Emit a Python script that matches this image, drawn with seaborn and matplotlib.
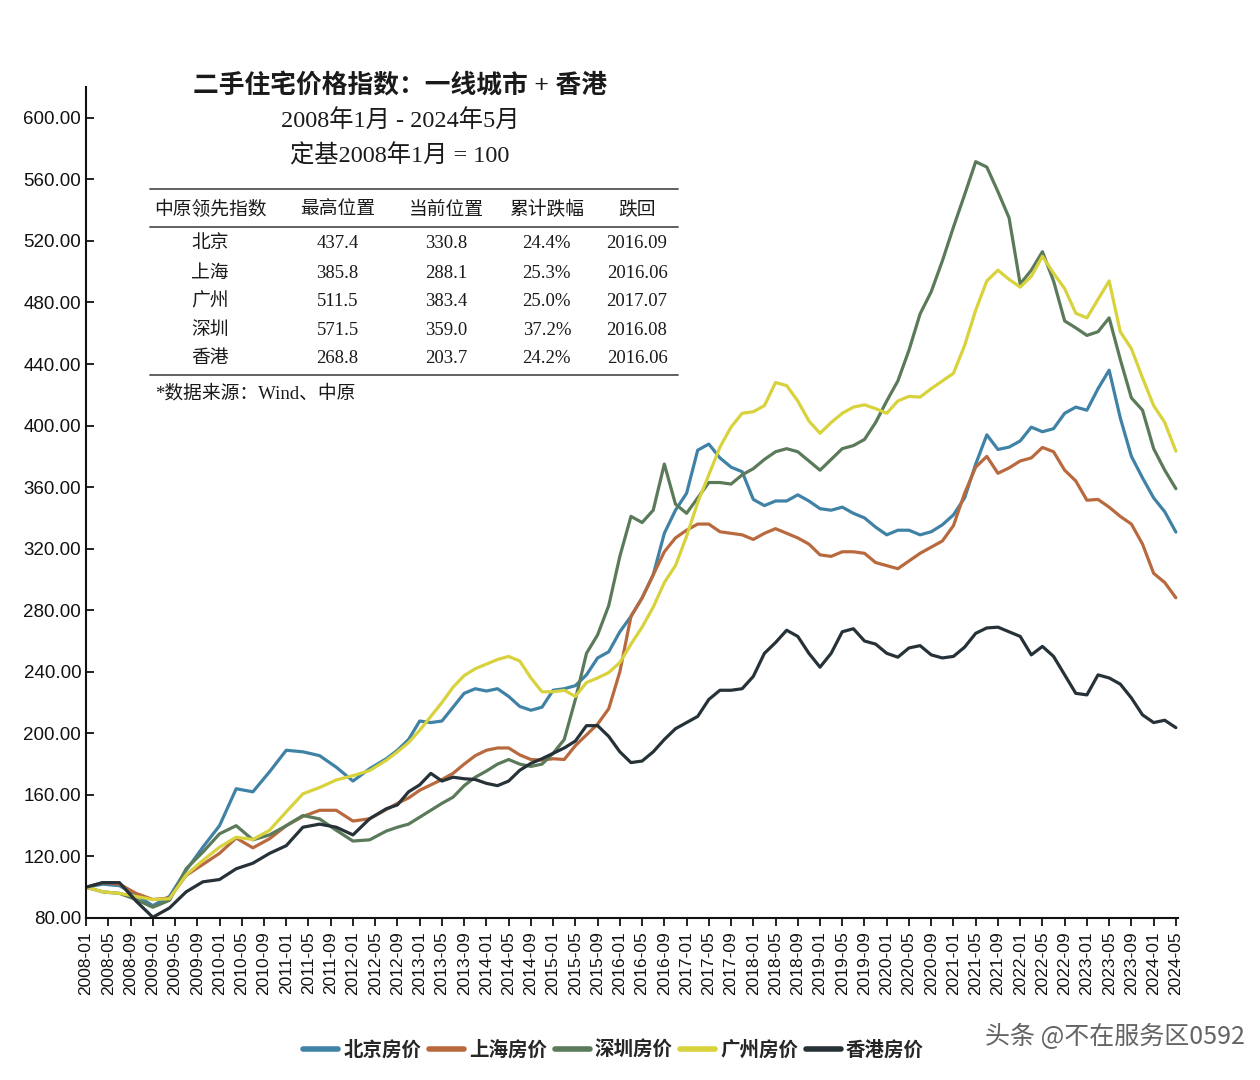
import numpy as np
import pandas as pd
import seaborn as sns
from matplotlib import pyplot as plt
from matplotlib.lines import Line2D

# sample positions, months since 2008-01 (quarterly to 2012-04, then every 2 months)
months = list(range(0, 52, 3)) + list(range(54, 197, 2))

beijing = [100, 102, 101, 95, 88, 94, 111, 126, 140, 164, 162, 175, 189, 188, 185.5, 178, 169, 177,
           183.5, 189, 196, 208, 207, 208, 217, 226, 229, 227.5,
           229, 224, 217.5, 215, 217, 228, 229, 231, 238, 249,
           253, 266, 276, 288, 303, 330, 345, 356, 384, 388,
           379, 373, 370, 352, 348, 351, 351, 355, 351, 346,
           345, 347, 343, 340, 334, 329, 332, 332, 329, 331,
           335.5, 342, 353, 375, 394, 384.5, 386, 390, 399, 396,
           398, 408, 412, 410, 424, 436, 405, 380, 366, 353,
           344, 330.8]
shanghai = [100, 103, 102, 96, 92, 93, 107.7, 114.8, 122, 132, 125.6, 131.5, 140, 146, 150, 150, 143, 144.5,
            150.5, 154.5, 158, 163, 166.5, 170, 174, 180, 185.5, 189,
            190.5, 190.5, 186, 183, 182.6, 183.5, 183, 192, 199, 206,
            216, 240, 276, 288, 303, 318, 327, 332, 336, 336,
            331, 330, 329, 326, 330, 333, 330, 327, 323, 316,
            315, 318, 318, 317, 311, 309, 307, 312, 317, 321,
            325, 335, 356, 373, 380, 369, 372.5, 377, 379, 385.8,
            383, 371, 364, 351.5, 352, 347, 341, 336, 323, 304,
            298, 288.1]
shenzhen = [100, 97, 96, 92, 87, 91.5, 112, 122.8, 134.7, 140, 130.8, 134, 140, 146.6, 144.4, 137, 130, 130.8,
            136.5, 139, 141, 145.5, 150, 154.5, 158.5, 166, 171.5, 175.5,
            180, 183, 180, 178.5, 180, 187, 196, 222, 252, 264,
            283, 315, 341, 337, 345, 375, 349, 343, 353, 363,
            363, 362, 368, 372, 378, 383, 385, 383, 377, 371,
            378, 385, 387, 391, 402, 416, 429, 449, 472.6, 487,
            507, 529, 550, 571.5, 568, 552, 535, 492, 501, 513,
            494, 468, 463.5, 458.6, 461, 470, 443, 418, 410, 385,
            371, 359]
guangzhou = [100, 97, 96, 94, 92, 92.5, 108, 117.4, 126, 132.5, 131, 137, 149, 160.7, 164.8, 169.7, 172.5, 175.8,
             182.5, 188, 194, 202, 211, 220, 230, 237.5, 242, 245,
             248, 250, 247, 236, 227, 227, 228, 224, 233, 236,
             239.5, 246, 258, 269, 282, 298, 309, 328, 350, 368,
             386, 399, 408, 409, 413, 428, 426, 416, 403, 395,
             402, 408, 412, 413.5, 411, 408, 416, 419, 418.5, 424,
             429, 434, 452, 475, 494, 501, 495, 490, 497, 510,
             499, 489, 473, 470, 482, 494, 461, 450, 431, 413,
             402, 383.4]
hongkong = [100, 103, 103, 91, 80.5, 86.5, 97, 103.5, 105, 112, 115.6, 122, 127, 139, 141, 139, 134, 144.5,
            151, 153.5, 162, 166.5, 174, 169, 171.5, 170.5, 170, 167.5,
            166, 169, 176, 180.5, 183.5, 187, 190.5, 195, 205, 205,
            198, 188, 181, 182, 188, 196, 203, 207, 211, 222,
            228, 228, 229, 237, 252, 259, 267, 263, 252, 243,
            252, 266, 268, 260, 258, 252, 249.5, 255.5, 257, 251,
            249, 250, 256, 265, 268.5, 269, 266, 263, 251, 256.5,
            250, 238, 226, 225, 238, 236, 232, 223, 212, 207,
            208.5, 203.7]

series_names = ['北京房价', '上海房价', '深圳房价', '广州房价', '香港房价']
colors = ['#3f82a6', '#b86a3e', '#5a7a5a', '#d8d23c', '#263238']

tick_months = list(range(0, 197, 4))
tick_labels = [f'{2008 + m // 12}-{m % 12 + 1:02d}' for m in tick_months]

# summary table drawn in the top-left corner
table_header = ['中原领先指数', '最高位置', '当前位置', '累计跌幅', '跌回']
table_cities = ['北京', '上海', '广州', '深圳', '香港']
table_high = ['437.4', '385.8', '511.5', '571.5', '268.8']
table_now = ['330.8', '288.1', '383.4', '359.0', '203.7']
table_drop = ['24.4%', '25.3%', '25.0%', '37.2%', '24.2%']
table_back = ['2016.09', '2016.06', '2017.07', '2016.08', '2016.06']

df = pd.DataFrame({
    'month': months * 5,
    'value': beijing + shanghai + shenzhen + guangzhou + hongkong,
    'city': np.repeat(series_names, len(months)),
})

sns.set_theme(style='ticks')
plt.rcParams['font.family'] = ['Liberation Sans', 'Noto Sans CJK SC', 'DejaVu Sans']
serif_cjk = ['Liberation Serif', 'Noto Sans CJK SC']

fig = plt.figure(figsize=(12.6, 10.8), dpi=100)
ax = fig.add_axes([0.0683, 0.15, 0.8667, 0.7694])

sns.lineplot(data=df, x='month', y='value', hue='city', hue_order=series_names,
             palette=dict(zip(series_names, colors)), linewidth=2.3, ax=ax)

ax.set_xlim(0, 196.4)
ax.set_ylim(80, 620)
ax.set_yticks(np.arange(80, 601, 40))
ax.set_yticklabels([f'{v:.2f}' for v in np.arange(80, 601, 40)], fontsize=13.5)
ax.set_xticks(tick_months)
ax.set_xticklabels(tick_labels, rotation=90, fontsize=12.5)
ax.tick_params(axis='y', direction='in', length=6, width=1.3, colors='#111111')
ax.tick_params(axis='x', direction='out', length=6, width=1.3, colors='#111111')
ax.set_xlabel('')
ax.set_ylabel('')
for side in ['top', 'right']:
    ax.spines[side].set_visible(False)
for side in ['left', 'bottom']:
    ax.spines[side].set_linewidth(1.5)
    ax.spines[side].set_color('#111111')

handles, labels = ax.get_legend_handles_labels()
ax.get_legend().remove()
leg = fig.legend(handles, labels, loc='center', bbox_to_anchor=(0.487, 0.028), ncol=5,
                 frameon=False, handlelength=1.8, columnspacing=0.4, handletextpad=0.25,
                 prop={'family': ['Noto Sans CJK SC'], 'weight': 'bold', 'size': 14})
for line in leg.get_lines():
    line.set_linewidth(4)

# title block
fig.text(0.3175, 0.9204, '二手住宅价格指数：一线城市 + 香港', ha='center', va='center',
         fontsize=18.5, fontweight='bold', family=serif_cjk, color='#1a1a1a')
fig.text(0.3175, 0.888, '2008年1月 - 2024年5月', ha='center', va='center',
         fontsize=17.5, family=serif_cjk, color='#1a1a1a')
fig.text(0.3175, 0.8556, '定基2008年1月 = 100', ha='center', va='center',
         fontsize=17.5, family=serif_cjk, color='#1a1a1a')

# table rules
for y in [0.825, 0.7898, 0.6528]:
    fig.add_artist(Line2D([0.119, 0.538], [y, y], transform=fig.transFigure,
                          color='#555555', linewidth=1.3))

col_x = [0.1667, 0.268, 0.354, 0.434, 0.5056]
for x, head in zip(col_x, table_header):
    fig.text(x, 0.8056, head, ha='center', va='center', fontsize=13.5,
             family=serif_cjk, color='#1a1a1a')

row_y = [0.7741, 0.7472, 0.7204, 0.6944, 0.6685]
for i, y in enumerate(row_y):
    cells = [table_cities[i], table_high[i], table_now[i], table_drop[i], table_back[i]]
    for x, cell in zip(col_x, cells):
        fig.text(x, y, cell, ha='center', va='center', fontsize=13.5,
                 family=serif_cjk, color='#1a1a1a')

fig.text(0.123, 0.6352, '*数据来源：Wind、中原', ha='left', va='center', fontsize=13.5,
         family=serif_cjk, color='#1a1a1a')

# watermark
fig.text(0.782, 0.04, '头条 @不在服务区0592', ha='left', va='center', fontsize=18,
         family=['Noto Sans CJK SC'], color='#222222', alpha=0.7)

fig.savefig('out.png', dpi=100, facecolor='white')
